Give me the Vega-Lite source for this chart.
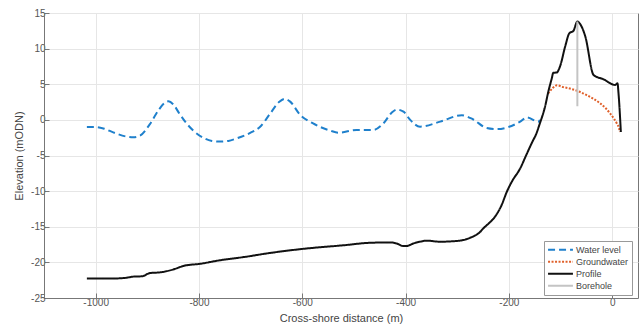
{
  "$schema": "https://vega.github.io/schema/vega-lite/v6.json",
  "width": 594,
  "height": 285,
  "autosize": {"type": "none"},
  "padding": {"left": 44, "top": 13, "right": 5, "bottom": 29},
  "background": "white",
  "config": {
    "font": "Liberation Sans",
    "view": {"stroke": "#777", "strokeWidth": 1},
    "axis": {
      "gridColor": "#e6e6e6",
      "domainColor": "#777",
      "tickColor": "#777",
      "tickSize": -5,
      "labelColor": "#555",
      "labelFontSize": 10,
      "titleColor": "#444",
      "titleFontSize": 11,
      "titleFontWeight": "normal",
      "labelExpr": "toString(datum.value)"
    },
    "legend": {
      "orient": "none",
      "legendX": 500,
      "legendY": 228,
      "fillColor": "white",
      "strokeColor": "#999",
      "padding": 3,
      "labelFontSize": 9,
      "labelColor": "#444",
      "symbolType": "stroke",
      "symbolSize": 620,
      "clipHeight": 11.5,
      "rowPadding": 0,
      "labelOffset": 2
    }
  },
  "datasets": {
    "lines": [
      {"series": "Water level", "x": -1017, "y": -1.0},
      {"series": "Water level", "x": -1001, "y": -1.0},
      {"series": "Water level", "x": -985, "y": -1.2},
      {"series": "Water level", "x": -966, "y": -1.75},
      {"series": "Water level", "x": -940, "y": -2.35},
      {"series": "Water level", "x": -927, "y": -2.45},
      {"series": "Water level", "x": -914, "y": -2.2},
      {"series": "Water level", "x": -895, "y": -0.6},
      {"series": "Water level", "x": -878, "y": 1.4},
      {"series": "Water level", "x": -866, "y": 2.4},
      {"series": "Water level", "x": -859, "y": 2.6},
      {"series": "Water level", "x": -850, "y": 2.2},
      {"series": "Water level", "x": -838, "y": 0.9},
      {"series": "Water level", "x": -824, "y": -0.5},
      {"series": "Water level", "x": -808, "y": -1.7},
      {"series": "Water level", "x": -792, "y": -2.5},
      {"series": "Water level", "x": -775, "y": -2.95},
      {"series": "Water level", "x": -759, "y": -3.05},
      {"series": "Water level", "x": -743, "y": -2.95},
      {"series": "Water level", "x": -727, "y": -2.6},
      {"series": "Water level", "x": -700, "y": -1.8},
      {"series": "Water level", "x": -682, "y": -1.0},
      {"series": "Water level", "x": -662, "y": 0.9},
      {"series": "Water level", "x": -645, "y": 2.5},
      {"series": "Water level", "x": -634, "y": 2.95},
      {"series": "Water level", "x": -624, "y": 2.6},
      {"series": "Water level", "x": -604, "y": 0.7},
      {"series": "Water level", "x": -579, "y": -0.5},
      {"series": "Water level", "x": -546, "y": -1.5},
      {"series": "Water level", "x": -530, "y": -1.8},
      {"series": "Water level", "x": -495, "y": -1.42},
      {"series": "Water level", "x": -462, "y": -1.4},
      {"series": "Water level", "x": -443, "y": -0.5},
      {"series": "Water level", "x": -427, "y": 1.0},
      {"series": "Water level", "x": -417, "y": 1.45},
      {"series": "Water level", "x": -404, "y": 1.15},
      {"series": "Water level", "x": -391, "y": 0.0},
      {"series": "Water level", "x": -372, "y": -0.95},
      {"series": "Water level", "x": -333, "y": -0.25},
      {"series": "Water level", "x": -291, "y": 0.65},
      {"series": "Water level", "x": -269, "y": 0.05},
      {"series": "Water level", "x": -243, "y": -1.15},
      {"series": "Water level", "x": -224, "y": -1.3},
      {"series": "Water level", "x": -178, "y": -0.25},
      {"series": "Water level", "x": -165, "y": 0.35},
      {"series": "Water level", "x": -143, "y": -0.25},
      {"series": "Water level", "x": -140, "y": 0.0},
      {"series": "Groundwater", "x": -124, "y": 3.7},
      {"series": "Groundwater", "x": -116, "y": 4.4},
      {"series": "Groundwater", "x": -107, "y": 4.85},
      {"series": "Groundwater", "x": -95, "y": 4.6},
      {"series": "Groundwater", "x": -82, "y": 4.4},
      {"series": "Groundwater", "x": -65, "y": 4.0},
      {"series": "Groundwater", "x": -50, "y": 3.5},
      {"series": "Groundwater", "x": -35, "y": 2.9},
      {"series": "Groundwater", "x": -23, "y": 2.3},
      {"series": "Groundwater", "x": -12, "y": 1.6},
      {"series": "Groundwater", "x": -4, "y": 0.9},
      {"series": "Groundwater", "x": 4, "y": 0.1},
      {"series": "Groundwater", "x": 9, "y": -0.5},
      {"series": "Groundwater", "x": 13, "y": -1.1},
      {"series": "Groundwater", "x": 15, "y": -1.7},
      {"series": "Profile", "x": -1017, "y": -22.25},
      {"series": "Profile", "x": -959, "y": -22.25},
      {"series": "Profile", "x": -940, "y": -22.15},
      {"series": "Profile", "x": -927, "y": -22.0},
      {"series": "Profile", "x": -910, "y": -21.95},
      {"series": "Profile", "x": -895, "y": -21.5},
      {"series": "Profile", "x": -875, "y": -21.4},
      {"series": "Profile", "x": -850, "y": -21.0},
      {"series": "Profile", "x": -830, "y": -20.5},
      {"series": "Profile", "x": -798, "y": -20.2},
      {"series": "Profile", "x": -759, "y": -19.7},
      {"series": "Profile", "x": -708, "y": -19.2},
      {"series": "Profile", "x": -669, "y": -18.75},
      {"series": "Profile", "x": -598, "y": -18.1},
      {"series": "Profile", "x": -520, "y": -17.6},
      {"series": "Profile", "x": -469, "y": -17.25},
      {"series": "Profile", "x": -430, "y": -17.2},
      {"series": "Profile", "x": -417, "y": -17.35},
      {"series": "Profile", "x": -405, "y": -17.7},
      {"series": "Profile", "x": -398, "y": -17.7},
      {"series": "Profile", "x": -385, "y": -17.35},
      {"series": "Profile", "x": -372, "y": -17.1},
      {"series": "Profile", "x": -359, "y": -16.95},
      {"series": "Profile", "x": -333, "y": -17.1},
      {"series": "Profile", "x": -295, "y": -16.95},
      {"series": "Profile", "x": -275, "y": -16.55},
      {"series": "Profile", "x": -256, "y": -15.75},
      {"series": "Profile", "x": -249, "y": -15.2},
      {"series": "Profile", "x": -240, "y": -14.6},
      {"series": "Profile", "x": -227, "y": -13.6},
      {"series": "Profile", "x": -214, "y": -11.95},
      {"series": "Profile", "x": -204, "y": -10.1},
      {"series": "Profile", "x": -194.5, "y": -8.7},
      {"series": "Profile", "x": -178, "y": -6.8},
      {"series": "Profile", "x": -165.5, "y": -4.8},
      {"series": "Profile", "x": -152.6, "y": -2.8},
      {"series": "Profile", "x": -149, "y": -2.3},
      {"series": "Profile", "x": -140, "y": -0.5},
      {"series": "Profile", "x": -130, "y": 1.85},
      {"series": "Profile", "x": -123.6, "y": 3.96},
      {"series": "Profile", "x": -117, "y": 5.8},
      {"series": "Profile", "x": -114, "y": 6.6},
      {"series": "Profile", "x": -107.4, "y": 6.65},
      {"series": "Profile", "x": -101, "y": 7.5},
      {"series": "Profile", "x": -91, "y": 10.3},
      {"series": "Profile", "x": -83, "y": 12.15},
      {"series": "Profile", "x": -75, "y": 12.5},
      {"series": "Profile", "x": -67.4, "y": 13.8},
      {"series": "Profile", "x": -62, "y": 13.45},
      {"series": "Profile", "x": -52, "y": 11.7},
      {"series": "Profile", "x": -36, "y": 6.3},
      {"series": "Profile", "x": -17, "y": 5.7},
      {"series": "Profile", "x": 5.8, "y": 4.9},
      {"series": "Profile", "x": 10.3, "y": 5.15},
      {"series": "Profile", "x": 12.3, "y": 3.7},
      {"series": "Profile", "x": 16.8, "y": -1.7}
    ],
    "borehole": [
      {"series": "Borehole", "x": -67.4, "y": 1.9, "y2": 13.8}
    ]
  },
  "encoding": {
    "x": {
      "field": "x", "type": "quantitative",
      "scale": {"domain": [-1100, 50], "nice": false, "zero": false},
      "axis": {"values": [-1000, -800, -600, -400, -200, 0], "title": "Cross-shore distance (m)", "labelPadding": 4, "titlePadding": 5}
    },
    "y": {
      "field": "y", "type": "quantitative",
      "scale": {"domain": [-25, 15], "nice": false, "zero": false},
      "axis": {"values": [-25, -20, -15, -10, -5, 0, 5, 10, 15], "title": "Elevation (mODN)", "labelPadding": 4, "titlePadding": 6}
    },
    "color": {
      "field": "series", "type": "nominal",
      "scale": {"domain": ["Water level", "Groundwater", "Profile", "Borehole"], "range": ["#1f80cc", "#e0602a", "#111111", "#c4c4c4"]},
      "legend": {"title": null}
    },
    "strokeDash": {
      "field": "series", "type": "nominal",
      "scale": {"domain": ["Water level", "Groundwater", "Profile", "Borehole"], "range": [[7, 4], [2, 1.5], [1, 0], [1, 0]]},
      "legend": {"title": null}
    },
    "strokeWidth": {
      "field": "series", "type": "nominal",
      "scale": {"domain": ["Water level", "Groundwater", "Profile", "Borehole"], "range": [2, 2, 2.2, 1.3]},
      "legend": {"title": null}
    }
  },
  "layer": [
    {
      "data": {"name": "lines"},
      "mark": {"type": "line", "interpolate": "monotone"}
    },
    {
      "data": {"name": "borehole"},
      "mark": {"type": "rule"},
      "encoding": {"y2": {"field": "y2"}}
    }
  ]
}
